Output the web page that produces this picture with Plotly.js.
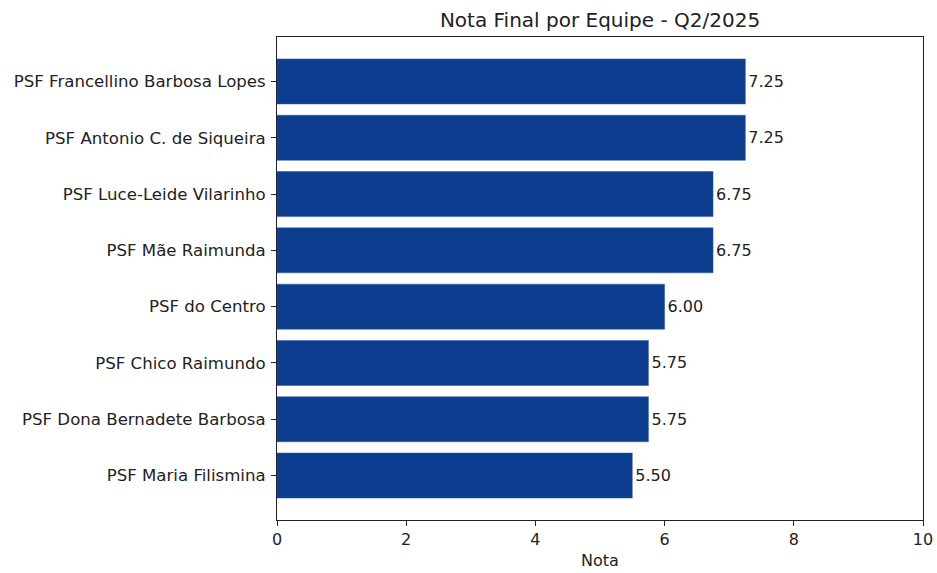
<!DOCTYPE html>
<html><head><meta charset="utf-8">
<script src="https://cdn.plot.ly/plotly-3.0.1.min.js"></script>
<style>body{margin:0;background:#fff}</style>
</head><body>
<div id="chart" style="width:937px;height:573px"></div>
<script>
const equipes = ["PSF Francellino Barbosa Lopes","PSF Antonio C. de Siqueira","PSF Luce-Leide Vilarinho","PSF Mãe Raimunda","PSF do Centro","PSF Chico Raimundo","PSF Dona Bernadete Barbosa","PSF Maria Filismina"];
const notas = [7.25, 7.25, 6.75, 6.75, 6.00, 5.75, 5.75, 5.50];
const xTicks = [0, 2, 4, 6, 8, 10];

const font = {family: "DejaVu Sans, sans-serif", size: 16, color: "#222"};
Plotly.newPlot("chart", [{
  type: "bar", orientation: "h",
  x: notas, y: equipes,
  width: 0.8,
  marker: {color: "#0d3d8f", line: {color: "#2a5aa8", width: 0.5}},
  text: notas.map(v => v.toFixed(2)),
  textposition: "outside",
  textfont: {family: "DejaVu Sans, sans-serif", size: 16, color: "#222"},
  cliponaxis: false,
  hoverinfo: "none"
}], {
  width: 937, height: 573,
  margin: {l: 277, r: 14, t: 37, b: 53},
  paper_bgcolor: "#fff", plot_bgcolor: "#fff",
  font: font,
  showlegend: false,
  title: {text: "Nota Final por Equipe - Q2/2025", font: {family: "DejaVu Sans, sans-serif", size: 20, color: "#222"}, x: 0.5, xanchor: "center", xref: "paper", y: 1, yref: "paper", yanchor: "bottom", pad: {b: 10}},
  xaxis: {
    range: [0, 10], tickvals: xTicks, ticktext: xTicks.map(String),
    ticks: "outside", ticklen: 5, tickwidth: 1, tickcolor: "#222",
    showline: true, linecolor: "#222", linewidth: 1, mirror: true,
    showgrid: false, zeroline: false,
    title: {text: "Nota", font: font, standoff: 6},
    tickfont: font
  },
  yaxis: {
    type: "category", range: [7.79, -0.79],
    ticks: "outside", ticklen: 5, tickwidth: 1, tickcolor: "#222",
    showline: true, linecolor: "#222", linewidth: 1, mirror: true,
    showgrid: false, zeroline: false,
    tickfont: {family: "DejaVu Sans, sans-serif", size: 16.6, color: "#222"}, ticklabelstandoff: 2
  }
}, {staticPlot: true});
</script>
</body></html>
